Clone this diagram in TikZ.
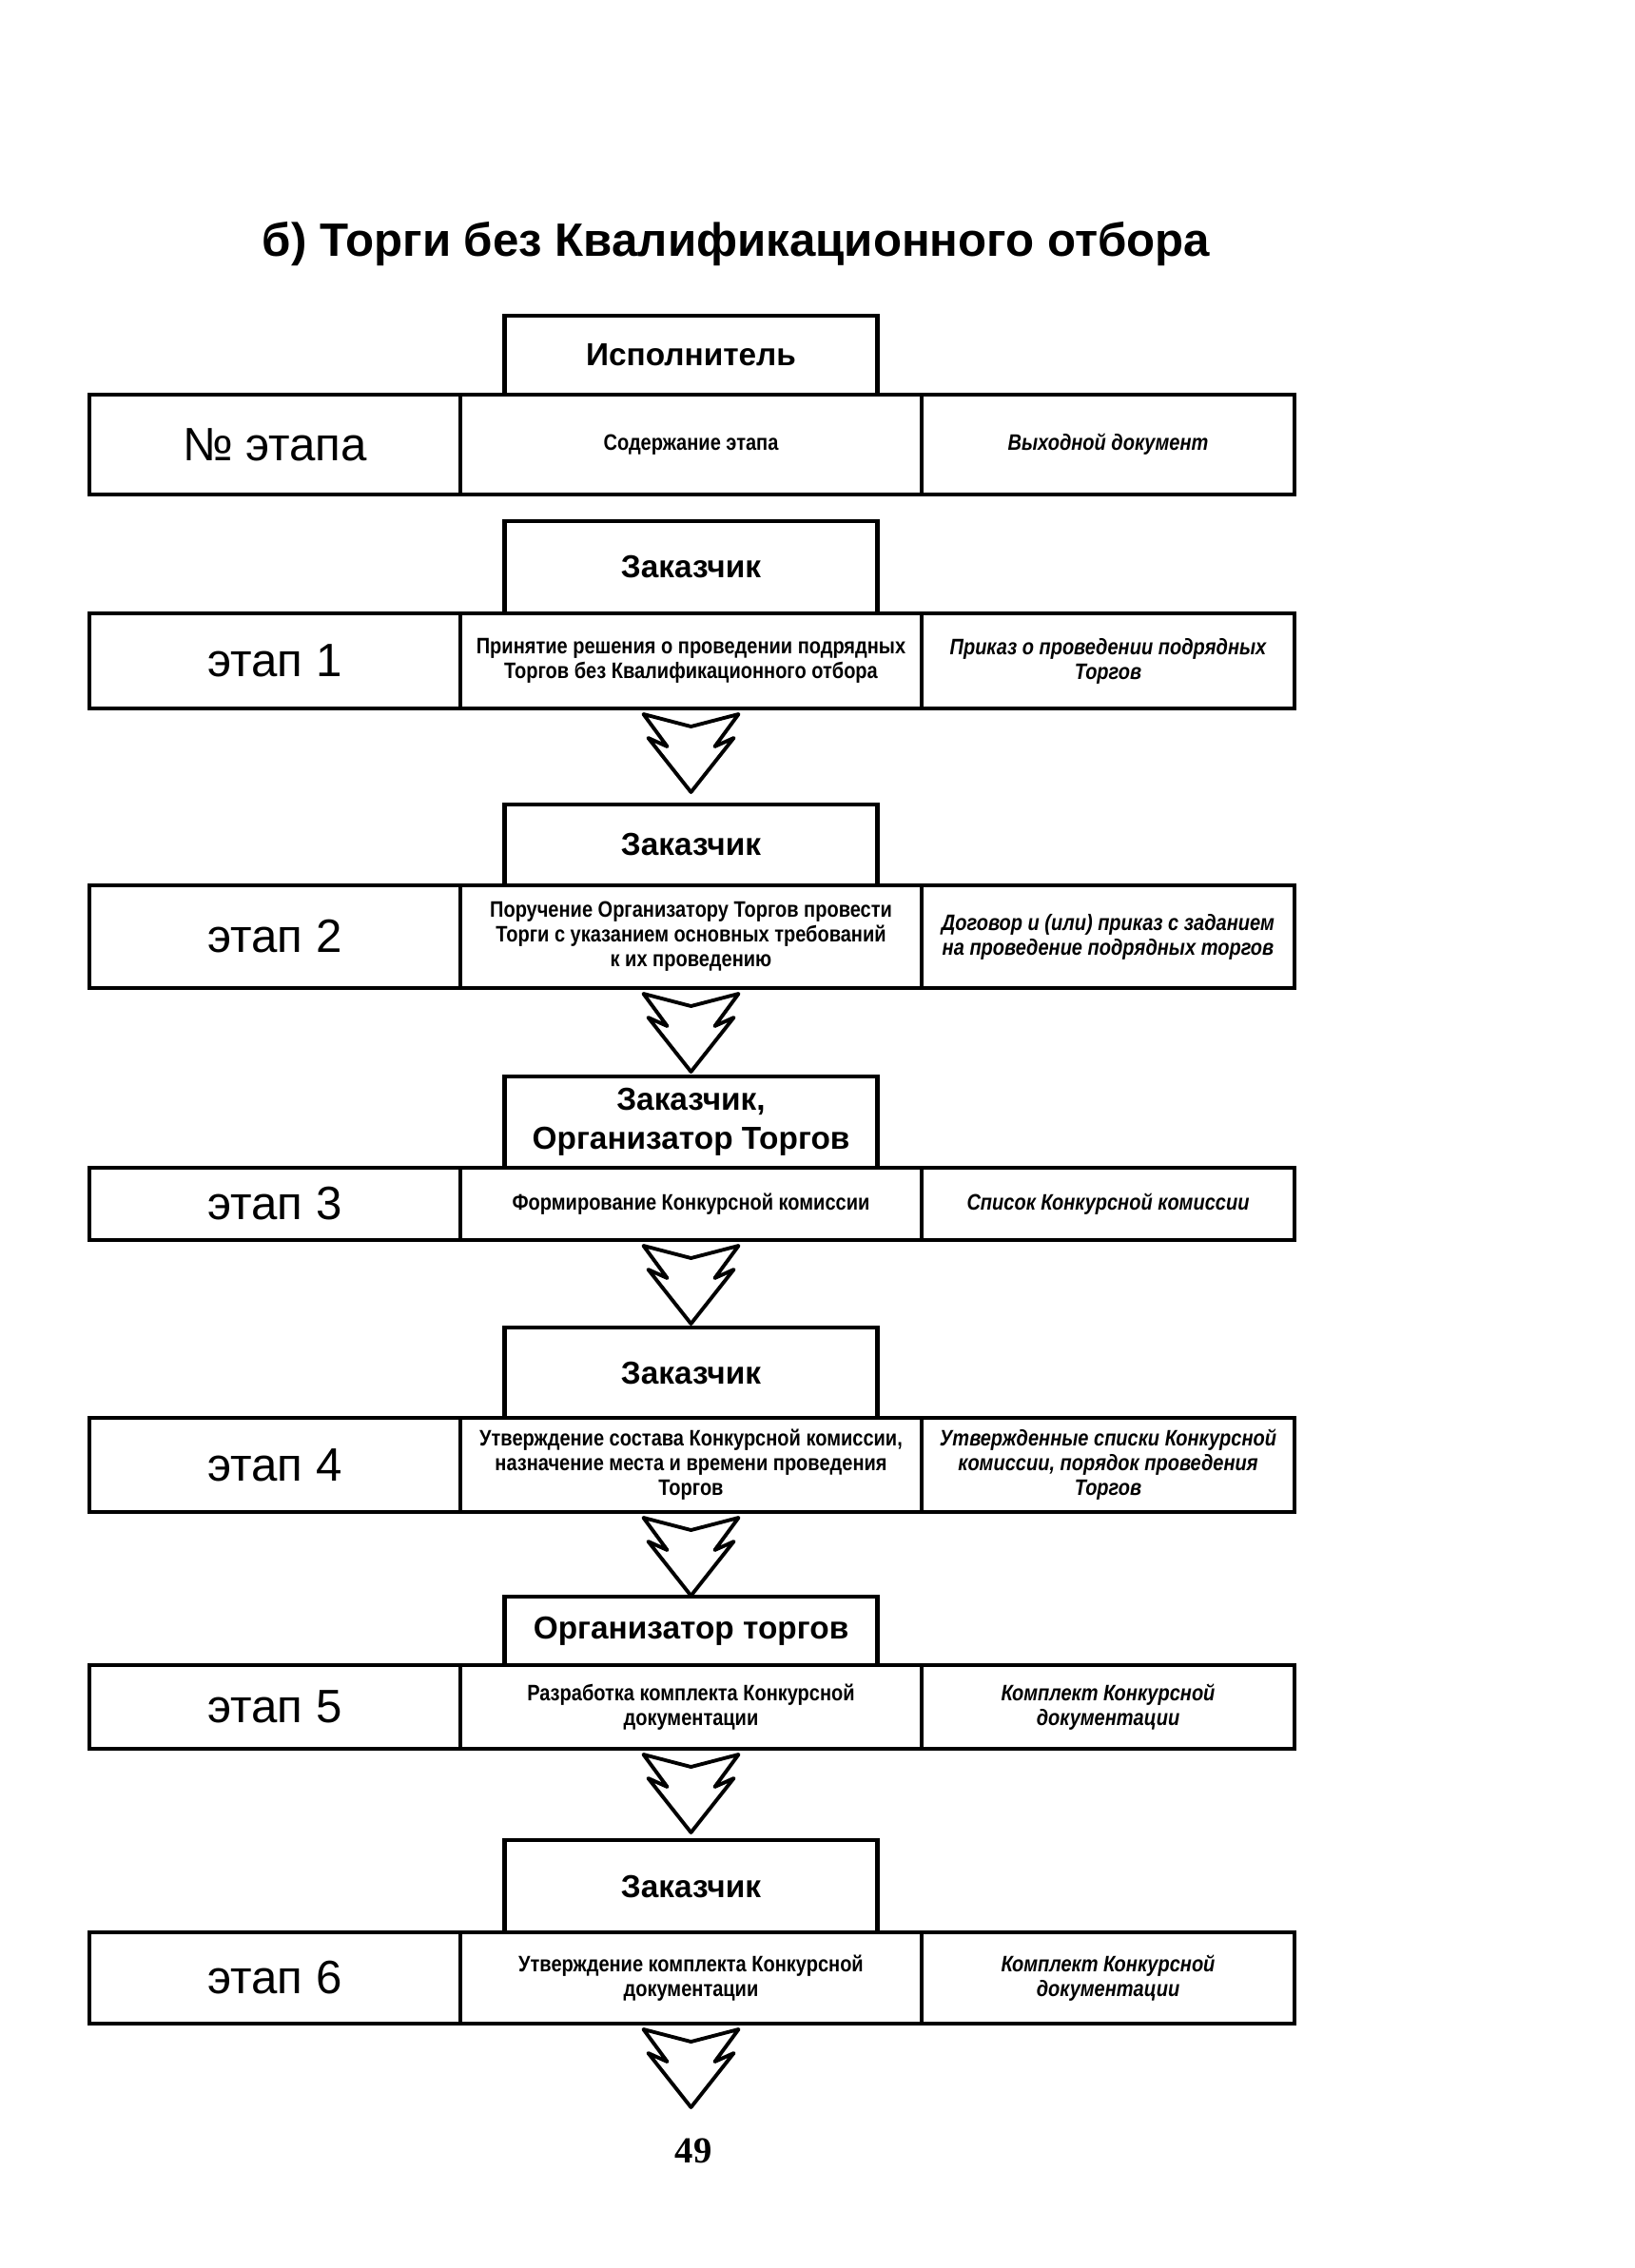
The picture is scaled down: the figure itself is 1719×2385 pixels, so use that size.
\documentclass[tikz,border=0pt]{standalone}
\usepackage{fontspec}
\setmainfont{Liberation Sans}
\newfontfamily\narrowfont[FakeStretch=0.85]{Liberation Sans}
\newfontfamily\pagenumfont{Liberation Serif}
\usetikzlibrary{positioning}

\tikzset{
  cell/.style={draw,line width=1.2pt,outer sep=0pt,inner sep=2pt,align=center},
  numcell/.style={cell,minimum width=39mm,font=\fontsize{14}{16}\selectfont},
  workcell/.style={cell,minimum width=48.5mm,font=\narrowfont\bfseries\fontsize{6.7}{7.4}\selectfont},
  doccell/.style={cell,minimum width=39.2mm,font=\narrowfont\bfseries\itshape\fontsize{6.7}{7.4}\selectfont},
  actor/.style={cell,minimum width=39.2mm,font=\bfseries\fontsize{9.5}{11.5}\selectfont},
  zarrow/.pic={\draw[line width=1.1pt,line join=round]
    (-50,6) -- (0,19) -- (50,6) -- (25,40) -- (45,31) -- (0,88)
    -- (-45,31) -- (-25,40) -- cycle;}
}

\begin{document}
\begin{tikzpicture}[x=0.1mm,y=-0.1mm]
\useasboundingbox (0,0) rectangle (1719,2385);

% title
\node[anchor=base,font=\bfseries\fontsize{14}{16}\selectfont] (title) at (774,269)
  {б) Торги без Квалификационного отбора};

% header
\node[numcell,minimum height=10.5mm,anchor=north west] (n0) at (94,415) {№ этапа};
\node[workcell,minimum height=10.5mm,right=0pt of n0] (w0) {Содержание этапа};
\node[doccell,minimum height=10.5mm,right=0pt of w0] (d0) {Выходной документ};
\node[actor,minimum height=8.3mm,above=0pt of w0] (a0) {Исполнитель};

% stage 1
\node[numcell,minimum height=10mm,anchor=north west] (n1) at (94,645) {этап 1};
\node[workcell,minimum height=10mm,right=0pt of n1] (w1)
  {Принятие решения о проведении подрядных\\Торгов без Квалификационного отбора};
\node[doccell,minimum height=10mm,right=0pt of w1] (d1)
  {Приказ о проведении подрядных\\Торгов};
\node[actor,minimum height=9.7mm,above=0pt of w1] (a1) {Заказчик};
\pic at (w1.south) {zarrow};

% stage 2
\node[numcell,minimum height=10.8mm,anchor=north west] (n2) at (94,931) {этап 2};
\node[workcell,minimum height=10.8mm,right=0pt of n2] (w2)
  {Поручение Организатору Торгов провести\\Торги с указанием основных требований\\к их проведению};
\node[doccell,minimum height=10.8mm,right=0pt of w2] (d2)
  {Договор и (или) приказ с заданием\\на проведение подрядных торгов};
\node[actor,minimum height=8.5mm,above=0pt of w2] (a2) {Заказчик};
\pic at (w2.south) {zarrow};

% stage 3
\node[numcell,minimum height=7.6mm,anchor=north west] (n3) at (94,1228) {этап 3};
\node[workcell,minimum height=7.6mm,right=0pt of n3] (w3) {Формирование Конкурсной комиссии};
\node[doccell,minimum height=7.6mm,right=0pt of w3] (d3) {Список Конкурсной комиссии};
\node[actor,minimum height=9.6mm,above=0pt of w3] (a3) {Заказчик,\\Организатор Торгов};
\pic at (w3.south) {zarrow};

% stage 4
\node[numcell,minimum height=9.9mm,anchor=north west] (n4) at (94,1491) {этап 4};
\node[workcell,minimum height=9.9mm,right=0pt of n4] (w4)
  {Утверждение состава Конкурсной комиссии,\\назначение места и времени проведения\\Торгов};
\node[doccell,minimum height=9.9mm,right=0pt of w4] (d4)
  {Утвержденные списки Конкурсной\\комиссии, порядок проведения\\Торгов};
\node[actor,minimum height=9.5mm,above=0pt of w4] (a4) {Заказчик};
\pic at (w4.south) {zarrow};

% stage 5
\node[numcell,minimum height=8.8mm,anchor=north west] (n5) at (94,1751) {этап 5};
\node[workcell,minimum height=8.8mm,right=0pt of n5] (w5)
  {Разработка комплекта Конкурсной\\документации};
\node[doccell,minimum height=8.8mm,right=0pt of w5] (d5)
  {Комплект Конкурсной\\документации};
\node[actor,minimum height=7.2mm,above=0pt of w5] (a5) {Организатор торгов};
\pic at (w5.south) {zarrow};

% stage 6
\node[numcell,minimum height=9.6mm,anchor=north west] (n6) at (94,2032) {этап 6};
\node[workcell,minimum height=9.6mm,right=0pt of n6] (w6)
  {Утверждение комплекта Конкурсной\\документации};
\node[doccell,minimum height=9.6mm,right=0pt of w6] (d6)
  {Комплект Конкурсной\\документации};
\node[actor,minimum height=9.7mm,above=0pt of w6] (a6) {Заказчик};
\pic at (w6.south) {zarrow};

% page number
\node[anchor=base,font=\pagenumfont\bfseries\fontsize{11}{13}\selectfont] (page) at (729,2274) {49};
\end{tikzpicture}
\end{document}
